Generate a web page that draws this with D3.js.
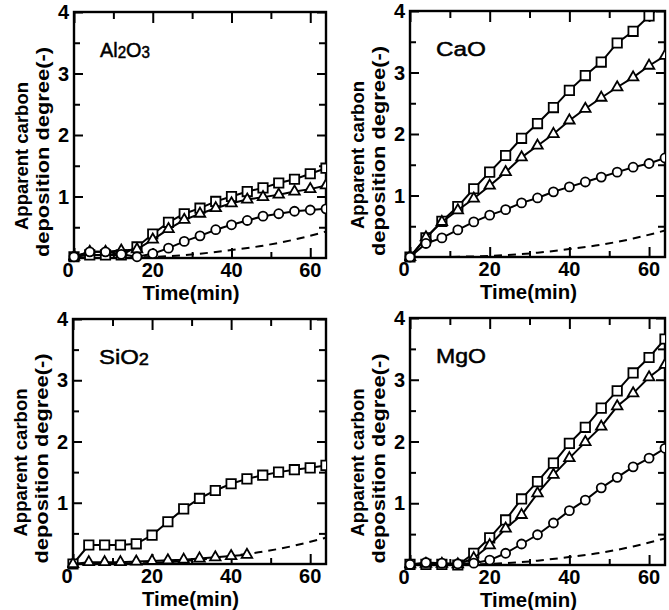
<!DOCTYPE html>
<html>
<head>
<meta charset="utf-8">
<script src="https://cdn.jsdelivr.net/npm/d3@7"></script>
<style>
  body { margin: 0; background: #fff; }
  text { font-family: "Liberation Sans", Arial, sans-serif; fill: #000; }
</style>
</head>
<body>
<svg id="chart" width="669" height="610"></svg>
<script>
// sampling times (min)
const times = [0, 4, 8, 12, 16, 20, 24, 28, 32, 36, 40, 44, 48, 52, 56, 60, 64];
const blankTimes = [0, 8, 16, 24, 32, 40, 48, 56, 64];
const blankValues = [0, 0, 0.01, 0.03, 0.07, 0.13, 0.2, 0.3, 0.43];

// Al2O3
const al2o3Square = [0.02, 0.05, 0.05, 0.05, 0.18, 0.39, 0.58, 0.72, 0.81, 0.92, 1.0, 1.08, 1.14, 1.22, 1.28, 1.37, 1.46];
const al2o3Triangle = [0.02, 0.1, 0.1, 0.12, 0.14, 0.3, 0.47, 0.62, 0.72, 0.81, 0.89, 0.95, 0.99, 1.03, 1.08, 1.12, 1.18];
const al2o3Circle = [0.02, 0.1, 0.1, 0.06, 0.02, 0.07, 0.16, 0.27, 0.36, 0.46, 0.54, 0.61, 0.68, 0.72, 0.76, 0.78, 0.8];

// CaO
const caoSquare = [0, 0.31, 0.58, 0.82, 1.11, 1.38, 1.65, 1.93, 2.17, 2.43, 2.71, 2.95, 3.17, 3.48, 3.67, 3.92, 4.12];
const caoTriangle = [0, 0.32, 0.57, 0.76, 0.95, 1.16, 1.38, 1.62, 1.81, 2.0, 2.22, 2.41, 2.59, 2.76, 2.92, 3.11, 3.27];
const caoCircle = [0, 0.22, 0.31, 0.44, 0.57, 0.68, 0.77, 0.88, 0.96, 1.06, 1.14, 1.22, 1.3, 1.38, 1.46, 1.52, 1.61];

// SiO2
const sio2Square = [0, 0.31, 0.31, 0.31, 0.33, 0.47, 0.69, 0.9, 1.07, 1.2, 1.31, 1.39, 1.45, 1.5, 1.54, 1.57, 1.61];
const sio2TriTimes = [0, 4, 8, 12, 16, 20, 24, 28, 32, 36, 40, 44];
const sio2Triangle = [0, 0.03, 0.03, 0.03, 0.04, 0.05, 0.06, 0.07, 0.09, 0.11, 0.13, 0.15];

// MgO
const mgoSquare = [0.01, 0.01, 0.01, 0.0, 0.19, 0.44, 0.73, 1.07, 1.35, 1.65, 1.97, 2.23, 2.54, 2.82, 3.11, 3.36, 3.66];
const mgoTriangle = [0.01, 0.02, 0.02, 0.01, 0.11, 0.32, 0.59, 0.81, 1.16, 1.46, 1.73, 1.99, 2.24, 2.57, 2.78, 3.04, 3.24];
const mgoCircle = [0.01, 0.04, 0.03, 0.02, 0.03, 0.08, 0.19, 0.34, 0.49, 0.68, 0.88, 1.05, 1.25, 1.42, 1.59, 1.73, 1.89];

const xTicks = [0, 20, 40, 60];
const xMinor = [10, 30, 50];
const yTicks = [1, 2, 3, 4];
const yMinor = [0.5, 1.5, 2.5, 3.5];

const panels = [
  { title: [["Al"], ["2", true], ["O"], ["3", true]], titleLen: 50, left: 74, right: 326, top: 12, bottom: 258,
    series: [
      { t: times, v: al2o3Square, mark: "square" },
      { t: times, v: al2o3Triangle, mark: "triangle" },
      { t: times, v: al2o3Circle, mark: "circle" }] },
  { title: [["CaO"]], titleLen: 50, left: 410, right: 665, top: 11, bottom: 257,
    series: [
      { t: times, v: caoSquare, mark: "square" },
      { t: times, v: caoTriangle, mark: "triangle" },
      { t: times, v: caoCircle, mark: "circle" }] },
  { title: [["SiO"], ["2", true]], titleLen: 50, left: 73, right: 326, top: 319, bottom: 564,
    series: [
      { t: times, v: sio2Square, mark: "square" },
      { t: sio2TriTimes, v: sio2Triangle, mark: "triangle" }] },
  { title: [["MgO"]], titleLen: 50, left: 410, right: 665, top: 318, bottom: 565,
    series: [
      { t: times, v: mgoSquare, mark: "square" },
      { t: times, v: mgoTriangle, mark: "triangle" },
      { t: times, v: mgoCircle, mark: "circle" }] }
];

const svg = d3.select("#chart");

panels.forEach((p, i) => {
  const x = d3.scaleLinear().domain([0, 64]).range([p.left, p.right]);
  const y = d3.scaleLinear().domain([0, 4]).range([p.bottom, p.top]);
  const g = svg.append("g");

  const clipId = "clip" + i;
  g.append("clipPath").attr("id", clipId)
    .append("rect")
    .attr("x", p.left - 6).attr("y", p.top)
    .attr("width", p.right - p.left + 6).attr("height", p.bottom - p.top + 6);

  // ticks, inward on all four sides
  const tickGroup = (axis, tx, ty) => {
    const a = g.append("g").attr("transform", `translate(${tx},${ty})`).call(axis);
    a.select(".domain").remove();
    a.selectAll("line").attr("stroke", "#000").attr("stroke-width", 2);
    return a;
  };
  tickGroup(d3.axisBottom(x).tickValues(xTicks).tickSize(-10).tickFormat(""), 0, p.bottom);
  tickGroup(d3.axisBottom(x).tickValues(xMinor).tickSize(-6).tickFormat(""), 0, p.bottom);
  tickGroup(d3.axisTop(x).tickValues(xTicks).tickSize(-11).tickFormat(""), 0, p.top);
  tickGroup(d3.axisTop(x).tickValues(xMinor).tickSize(-7).tickFormat(""), 0, p.top);
  tickGroup(d3.axisLeft(y).tickValues(yTicks).tickSize(-9).tickFormat(""), p.left, 0);
  tickGroup(d3.axisLeft(y).tickValues(yMinor).tickSize(-6).tickFormat(""), p.left, 0);
  tickGroup(d3.axisRight(y).tickValues(yTicks).tickSize(-9).tickFormat(""), p.right, 0);
  tickGroup(d3.axisRight(y).tickValues(yMinor).tickSize(-7).tickFormat(""), p.right, 0);

  // frame
  g.append("rect")
    .attr("x", p.left).attr("y", p.top)
    .attr("width", p.right - p.left).attr("height", p.bottom - p.top)
    .attr("fill", "none").attr("stroke", "#000").attr("stroke-width", 2.4);

  // tick labels
  g.selectAll(".xl").data(xTicks).join("text")
    .attr("x", d => x(d) + (d === 0 ? -6 : 0))
    .attr("y", p.bottom + 19)
    .attr("text-anchor", "middle")
    .attr("font-size", 20).attr("font-weight", "bold")
    .text(d => d);
  g.selectAll(".yl").data(yTicks).join("text")
    .attr("x", p.left - 5)
    .attr("y", d => y(d) + 7)
    .attr("text-anchor", "end")
    .attr("font-size", 20).attr("font-weight", "bold")
    .text(d => d);

  // axis titles
  g.append("text")
    .attr("x", (p.left + p.right) / 2 - 9)
    .attr("y", p.bottom + 42)
    .attr("text-anchor", "middle")
    .attr("font-size", 20).attr("font-weight", "bold")
    .attr("textLength", 97).attr("lengthAdjust", "spacingAndGlyphs")
    .text("Time(min)");
  const cy = (p.top + p.bottom) / 2;
  g.append("text")
    .attr("transform", `translate(${p.left - 46},${cy + 21}) rotate(-90)`)
    .attr("text-anchor", "middle")
    .attr("font-size", 18).attr("font-weight", "bold")
    .attr("textLength", 148).attr("lengthAdjust", "spacingAndGlyphs")
    .text("Apparent carbon");
  g.append("text")
    .attr("transform", `translate(${p.left - 25},${cy + 17}) rotate(-90)`)
    .attr("text-anchor", "middle")
    .attr("font-size", 18).attr("font-weight", "bold")
    .attr("textLength", 210).attr("lengthAdjust", "spacingAndGlyphs")
    .text("deposition degree(-)");

  // panel title
  const tt = g.append("text")
    .attr("x", p.left + 26).attr("y", p.top + 45)
    .attr("font-size", 21)
    .attr("stroke", "#000").attr("stroke-width", 0.5)
    .attr("textLength", p.titleLen).attr("lengthAdjust", "spacingAndGlyphs");
  p.title.forEach(([s, sub], k) => {
    tt.append("tspan")
      .attr("font-size", sub ? 16 : 21)
      .attr("dy", sub ? 1 : (k > 0 ? -1 : 0))
      .text(s);
  });

  const plot = g.append("g").attr("clip-path", `url(#${clipId})`);

  // blank (dashed) curve
  const line = d3.line().x(d => x(d[0])).y(d => y(d[1]));
  plot.append("path")
    .datum(blankTimes.map((t, k) => [t, blankValues[k]]))
    .attr("d", d3.line().curve(d3.curveMonotoneX).x(d => x(d[0])).y(d => y(d[1])))
    .attr("fill", "none").attr("stroke", "#000")
    .attr("stroke-width", 2).attr("stroke-dasharray", "8,6");

  const sym = {
    square: d3.symbol().type(d3.symbolSquare).size(88),
    triangle: d3.symbol().type(d3.symbolTriangle).size(48),
    circle: d3.symbol().type(d3.symbolCircle).size(64)
  };

  p.series.forEach(s => {
    const pts = s.t.map((t, k) => [t, s.v[k]]);
    plot.append("path")
      .datum(pts)
      .attr("d", line)
      .attr("fill", "none").attr("stroke", "#000").attr("stroke-width", 2);
    plot.selectAll(null).data(pts).join("path")
      .attr("transform", d => `translate(${x(d[0])},${y(d[1])})`)
      .attr("d", sym[s.mark])
      .attr("fill", "#fff").attr("stroke", "#000").attr("stroke-width", 1.8);
  });
});
</script>
</body>
</html>
